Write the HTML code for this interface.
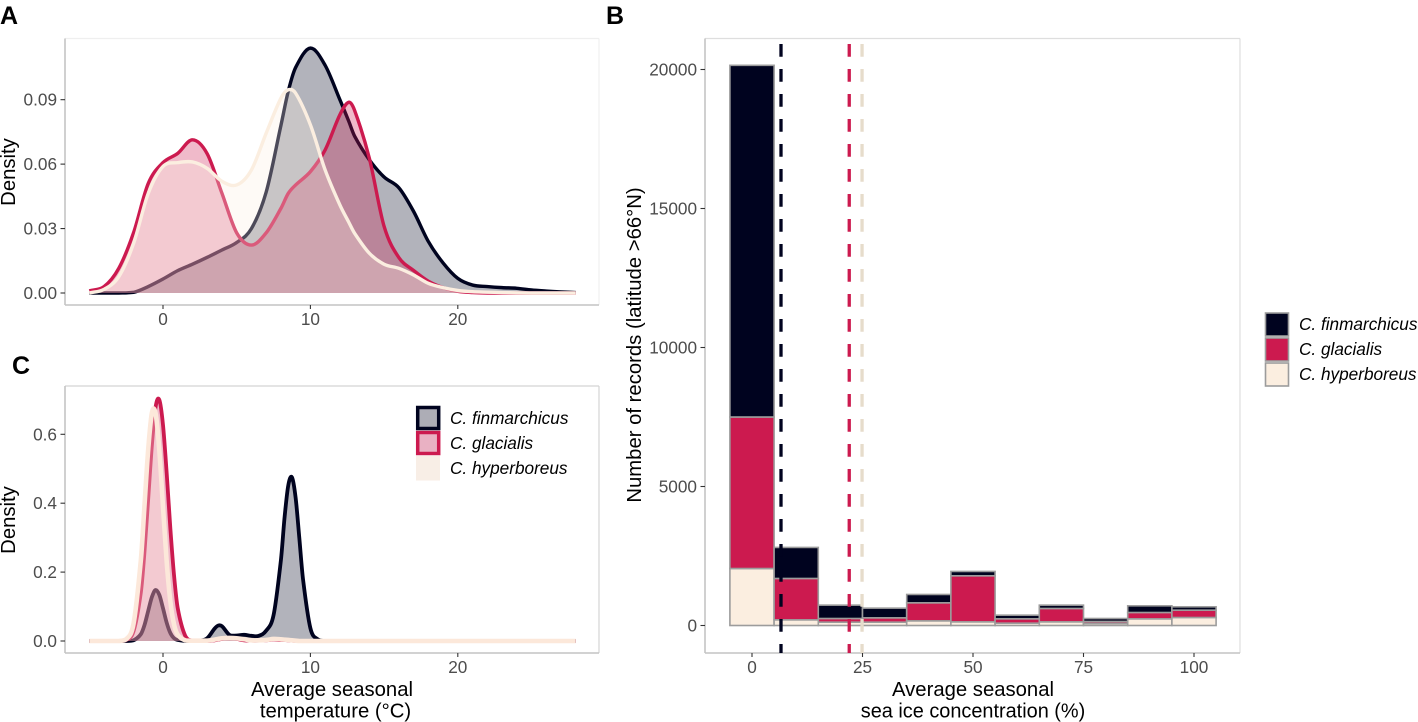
<!DOCTYPE html>
<html lang="en">
<head>
<meta charset="utf-8">
<title>Calanus temperature and sea ice distributions</title>
<style>
html,body{margin:0;padding:0;background:#fff;}
svg{display:block;font-family:"Liberation Sans",sans-serif;}
.tick{font-size:17.2px;fill:#4d4d4d;}
.title{font-size:20.3px;fill:#000;}
.tag{font-size:25px;font-weight:700;fill:#000;}
.leg{font-size:17.2px;font-style:italic;fill:#000;}
</style>
</head>
<body>
<svg id="fig" xmlns="http://www.w3.org/2000/svg" width="1418" height="722" viewBox="0 0 1418 722">
  <text class="tag" x="0" y="24">A</text>
  <text class="tag" x="606" y="24">B</text>
  <text class="tag" x="12" y="374">C</text>

  <g id="panelA"></g>
  <g id="panelC"></g>
  <g id="panelB"></g>

  <text class="title" transform="translate(15,172) rotate(-90)" text-anchor="middle">Density</text>
  <text class="title" transform="translate(15,520) rotate(-90)" text-anchor="middle">Density</text>
  <text class="title" x="332" y="696" text-anchor="middle">Average seasonal</text>
  <text class="title" x="335.5" y="717.5" text-anchor="middle">temperature (°C)</text>
  <text class="title" transform="translate(641,345) rotate(-90)" text-anchor="middle">Number of records (latitude &gt;66°N)</text>
  <text class="title" x="973" y="696" text-anchor="middle">Average seasonal</text>
  <text class="title" style="font-size:19.9px" x="973" y="717.5" text-anchor="middle">sea ice concentration (%)</text>

  <g>
    <rect x="417.7" y="407.5" width="21" height="21" fill="#adadb6" stroke="#00031f" stroke-width="3.5"/>
    <rect x="417.7" y="432.5" width="21" height="21" fill="#e9b1c3" stroke="#cc1a4f" stroke-width="3.5"/>
    <rect x="416" y="456" width="24" height="24.5" fill="#f8eee6"/>
    <text class="leg" x="450" y="424">C. finmarchicus</text>
    <text class="leg" x="450" y="449">C. glacialis</text>
    <text class="leg" x="450" y="474">C. hyperboreus</text>
  </g>

  <g>
    <rect x="1265.5" y="313" width="23" height="23" fill="#00031f" stroke="#9c9c9c" stroke-width="1.6"/>
    <rect x="1265.5" y="338" width="23" height="23" fill="#cc1a4f" stroke="#9c9c9c" stroke-width="1.6"/>
    <rect x="1265.5" y="363" width="23" height="23" fill="#fbeee0" stroke="#9c9c9c" stroke-width="1.6"/>
    <text class="leg" x="1299" y="330">C. finmarchicus</text>
    <text class="leg" x="1299" y="355">C. glacialis</text>
    <text class="leg" x="1299" y="380">C. hyperboreus</text>
  </g>
</svg>
<script>
// ---------- Panel A data ----------
const tempA = [-5,-4,-3,-2,-1,0,1,2,3,4,5,6,7,8,8.5,9,10,11,12,12.6,13,14,15,16,17,18,19,20,21,22,23,24,25,26,27,28];
const finA  = [0,0,0,0.0003,0.003,0.0065,0.0104,0.0134,0.0166,0.020,0.0235,0.030,0.047,0.078,0.094,0.105,0.114,0.106,0.090,0.080,0.073,0.062,0.054,0.049,0.038,0.024,0.014,0.0068,0.0037,0.003,0.0025,0.0022,0.0014,0.0009,0.0005,0.0002];
const glaA  = [0.001,0.003,0.0115,0.028,0.051,0.0607,0.065,0.0713,0.0648,0.0464,0.028,0.0223,0.028,0.0394,0.0464,0.0503,0.0565,0.0666,0.083,0.0888,0.085,0.0627,0.031,0.0165,0.0105,0.0055,0.0025,0.0008,0.0002,0,0,0,0,0,0,0];
const hypA  = [0,0.0017,0.0076,0.023,0.0464,0.0589,0.0607,0.061,0.058,0.052,0.0503,0.0573,0.0744,0.0907,0.0946,0.093,0.0783,0.0573,0.041,0.033,0.0278,0.0185,0.0134,0.0115,0.0084,0.0045,0.0025,0.0012,0.0006,0.0004,0.0002,0.0001,0,0,0,0];
const yTicksA = [0,0.03,0.06,0.09];
const yLabelsA = ["0.00","0.03","0.06","0.09"];

// ---------- Panel C data ----------
const tempC = [-5,-3,-2.5,-2,-1.5,-1.25,-1,-0.75,-0.5,-0.25,0,0.25,0.5,0.75,1,1.5,2,2.5,3,3.5,3.75,4,4.5,5,5.5,6,6.5,7,7.5,8,8.25,8.5,8.75,9,9.25,9.5,10,10.5,11,28];
const finC  = [0,0,0,0.002,0.02,0.047,0.088,0.128,0.148,0.134,0.095,0.053,0.023,0.008,0.003,0,0,0.001,0.008,0.036,0.045,0.043,0.018,0.016,0.018,0.015,0.015,0.03,0.075,0.235,0.36,0.452,0.475,0.415,0.298,0.179,0.037,0.005,0,0];
const glaC  = [0,0,0.003,0.028,0.142,0.262,0.415,0.57,0.68,0.70,0.627,0.487,0.326,0.19,0.095,0.016,0.001,0,0,0.002,0.004,0.006,0.008,0.006,0.002,0.001,0.001,0.002,0.004,0.003,0.003,0.002,0.001,0,0,0,0,0,0,0];
const hypC  = [0,0,0.005,0.05,0.236,0.397,0.558,0.663,0.66,0.555,0.39,0.23,0.115,0.048,0.018,0.002,0.001,0.001,0.001,0.004,0.006,0.008,0.009,0.008,0.005,0.002,0.002,0.003,0.006,0.005,0.004,0.003,0.002,0.001,0,0,0,0,0,0];
const yTicksC = [0,0.2,0.4,0.6];
const yLabelsC = ["0.0","0.2","0.4","0.6"];

// ---------- Shared temperature axis ----------
const xTicksTemp = [0,10,20];
const xLabelsTemp = ["0","10","20"];

// ---------- Panel B data ----------
const iceBins = [0,10,20,30,40,50,60,70,80,90,100];
const hypB = [2050,204,120,120,168,132,84,132,72,240,288];
const glaB = [5450,1488,132,156,648,1656,156,480,72,228,264];
const finB = [12650,1116,480,348,300,156,132,120,108,240,120];
const iceMeans = [6.56,22,24.9];
const xTicksIce = [0,25,50,75,100];
const yTicksB = [0,5000,10000,15000,20000];

const NS = "http://www.w3.org/2000/svg";
const DARK = "#00031f", RED = "#cc1a4f", CREAM = "#fbeee0", BEIGE = "#e6dccb";

function make(parent, tag, attrs, text) {
  const e = document.createElementNS(NS, tag);
  for (const k in attrs) e.setAttribute(k, attrs[k]);
  if (text !== undefined) e.textContent = text;
  parent.appendChild(e);
  return e;
}

function curvePath(xs, ys, sx, sy) {
  let d = "M" + sx(xs[0]).toFixed(2) + " " + sy(ys[0]).toFixed(2);
  const n = xs.length;
  const slope = i => {
    const a = Math.max(0, i - 1), b = Math.min(n - 1, i + 1);
    return (ys[b] - ys[a]) / (xs[b] - xs[a]);
  };
  for (let i = 0; i < n - 1; i++) {
    const h = xs[i + 1] - xs[i];
    const x1 = xs[i] + h / 3, x2 = xs[i + 1] - h / 3;
    let y1 = ys[i] + slope(i) * h / 3, y2 = ys[i + 1] - slope(i + 1) * h / 3;
    y1 = Math.max(0, y1);
    y2 = Math.max(0, y2);
    d += "C" + sx(x1).toFixed(2) + " " + sy(y1).toFixed(2) + " " + sx(x2).toFixed(2) + " " + sy(y2).toFixed(2) + " " + sx(xs[i + 1]).toFixed(2) + " " + sy(ys[i + 1]).toFixed(2);
  }
  return d;
}

function drawFrame(g, box, topColor) {
  const edges = [
    [box.l, box.t, box.r, box.t, topColor, 1.2],
    [box.r, box.t, box.r, box.b, topColor, 1.2],
    [box.l, box.t, box.l, box.b, "#c4c4c4", 1.6],
    [box.l, box.b, box.r, box.b, "#c4c4c4", 1.6]
  ];
  edges.forEach(c => {
    const ln = make(g, "line", {x1: c[0], y1: c[1], x2: c[2], y2: c[3], stroke: c[4], "stroke-width": c[5]});
    
    
  });
}

function drawAxes(g, box, xTicks, xLabels, sx, yTicks, yLabels, sy, xLabelY) {
  xTicks.forEach((v, i) => {
    const t = make(g, "line", {x1: sx(v), x2: sx(v), y1: box.b, y2: box.b + 4, stroke: "#333", "stroke-width": 1.1});
    
    
    const l = make(g, "text", {class: "tick", x: sx(v), y: xLabelY, "text-anchor": "middle"}, xLabels[i]);
    
    
  });
  yTicks.forEach((v, i) => {
    const t = make(g, "line", {x1: box.l - 4.5, x2: box.l, y1: sy(v), y2: sy(v), stroke: "#333", "stroke-width": 1.1});
    
    
    const l = make(g, "text", {class: "tick", x: box.l - 8, y: sy(v) + 6, "text-anchor": "end"}, yLabels[i]);
    
    
  });
}

function drawDensity(g, box, xs, series, sx, sy) {
  series.forEach(s => {
    const line = curvePath(xs, s.values, sx, sy);
    const area = line + "L" + sx(xs[xs.length - 1]) + " " + sy(0) + "L" + sx(xs[0]) + " " + sy(0) + "Z";
    const a = make(g, "path", {d: area, fill: s.color, "fill-opacity": 0.3, stroke: "none"});
    
    
    const p = make(g, "path", {d: line, fill: "none", stroke: s.lineColor || s.color, "stroke-width": s.width, "stroke-linejoin": "round"});
    
    
  });
}

const sxTemp = v => 163 + v * 14.74;

// Panel A
(function () {
  const g = document.getElementById("panelA");
  const box = {l: 65, r: 599, t: 38.5, b: 305};
  const sy = v => 293 - v * 2148;
  drawFrame(g, box, "#efefef");
  drawAxes(g, box, xTicksTemp, xLabelsTemp, sxTemp, yTicksA, yLabelsA, sy, 325);
  drawDensity(g, box, tempA, [
    {name: "finmarchicus", color: DARK, values: finA, width: 3.4},
    {name: "glacialis", color: RED, values: glaA, width: 3.4},
    {name: "hyperboreus", color: CREAM, values: hypA, width: 3.4}
  ], sxTemp, sy);
})();

// Panel C
(function () {
  const g = document.getElementById("panelC");
  const box = {l: 65, r: 599, t: 386, b: 653};
  const sy = v => 641 - v * 344.5;
  drawFrame(g, box, "#d4d4d4");
  drawAxes(g, box, xTicksTemp, xLabelsTemp, sxTemp, yTicksC, yLabelsC, sy, 673);
  drawDensity(g, box, tempC, [
    {name: "finmarchicus", color: DARK, values: finC, width: 3.8},
    {name: "glacialis", color: RED, values: glaC, width: 3.8},
    {name: "hyperboreus", color: CREAM, lineColor: "#fce8da", values: hypC, width: 4.6}
  ], sxTemp, sy);
})();

// Panel B
(function () {
  const g = document.getElementById("panelB");
  const box = {l: 705, r: 1240, t: 38.5, b: 653};
  const sx = v => 752 + v * 4.42;
  const sy = v => 625.5 - v * 0.0278;
  drawFrame(g, box, "#dedede");
  drawAxes(g, box, xTicksIce, xTicksIce.map(String), sx, yTicksB, yTicksB.map(String), sy, 673);
  iceBins.forEach((bin, i) => {
    const parts = [
      {name: "hyperboreus", color: CREAM, v: hypB[i]},
      {name: "glacialis", color: RED, v: glaB[i]},
      {name: "finmarchicus", color: DARK, v: finB[i]}
    ];
    let base = 0;
    parts.forEach(p => {
      const top = base + p.v;
      const r = make(g, "rect", {
        x: sx(bin - 5), width: sx(bin + 5) - sx(bin - 5),
        y: sy(top), height: sy(base) - sy(top),
        fill: p.color, stroke: "#9c9c9c", "stroke-width": 1.6
      });
      
      
      base = top;
    });
  });
  const meanColors = [DARK, RED, BEIGE];
  const meanNames = ["finmarchicus", "glacialis", "hyperboreus"];
  iceMeans.forEach((m, i) => {
    const ln = make(g, "line", {
      x1: sx(m), x2: sx(m), y1: box.t, y2: box.b,
      stroke: meanColors[i], "stroke-width": 3.3,
      "stroke-dasharray": "12.7 12.3", "stroke-dashoffset": 19.5
    });
    
    
  });
})();
</script>
</body>
</html>
